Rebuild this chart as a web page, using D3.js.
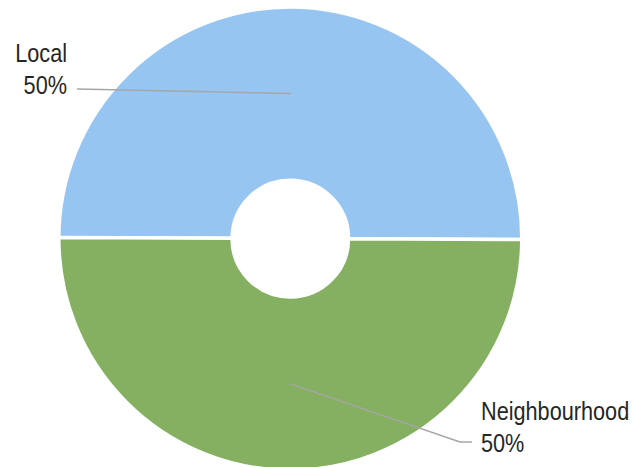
<!DOCTYPE html>
<html>
<head>
<meta charset="utf-8">
<script src="https://cdn.jsdelivr.net/npm/d3@7"></script>
<style>
html,body{margin:0;padding:0;background:#fff;}
svg{display:block;}
text{font-family:"Liberation Sans",Arial,sans-serif;fill:#262626;}
</style>
</head>
<body>
<script>
const categories = ["Local", "Neighbourhood"];
const values = [50, 50];
const colors = ["#97C5F1", "#85B062"];

const W = 637, H = 467;
const cx = 290.3, cy = 238.6, outerR = 231.5, innerR = 58.2;
const rot = 0.25 * Math.PI / 180;

const svg = d3.select("body").append("svg").attr("width", W).attr("height", H);
const g = svg.append("g").attr("transform", `translate(${cx},${cy})`);

const data = categories.map((c, i) => ({ name: c, value: values[i], color: colors[i] }));
const total = d3.sum(values);

const pie = d3.pie().value(d => d.value).sort(null)
  .startAngle(-Math.PI / 2 + rot).endAngle(3 * Math.PI / 2 + rot);
const arcs = pie(data);
const arc = d3.arc().innerRadius(innerR).outerRadius(outerR);
const labelArc = d3.arc().innerRadius(60).outerRadius(230);

g.selectAll("path.slice").data(arcs).enter().append("path")
  .attr("class", "slice")
  .attr("d", arc)
  .attr("fill", d => d.data.color)
  .attr("stroke", "#fff")
  .attr("stroke-width", 3.5)
  .attr("stroke-linejoin", "round");

// Leader lines and labels
const fmt = v => Math.round(v / total * 100) + "%";
const labelSpec = [
  { anchor: "end", tx: 67, ty: 62, pts: [[77, 89]] },
  { anchor: "start", tx: 481, ty: 420, pts: [[460, 442], [472, 442]] }
];

arcs.forEach((a, i) => {
  const c = labelArc.centroid(a);
  const spec = labelSpec[i];
  const line = [[cx + c[0], cy + c[1]]].concat(spec.pts);
  svg.append("path")
    .attr("d", d3.line()(line))
    .attr("fill", "none")
    .attr("stroke", "#A6A6A6")
    .attr("stroke-width", 1.5);
  const t = svg.append("text")
    .attr("text-anchor", spec.anchor)
    .attr("font-size", 25.5)
    .attr("transform", `translate(${spec.tx},${spec.ty}) scale(0.85,1)`);
  t.append("tspan").attr("x", 0).attr("y", 0).text(a.data.name);
  t.append("tspan").attr("x", 0).attr("y", 32).text(fmt(a.data.value));
});
</script>
</body>
</html>
